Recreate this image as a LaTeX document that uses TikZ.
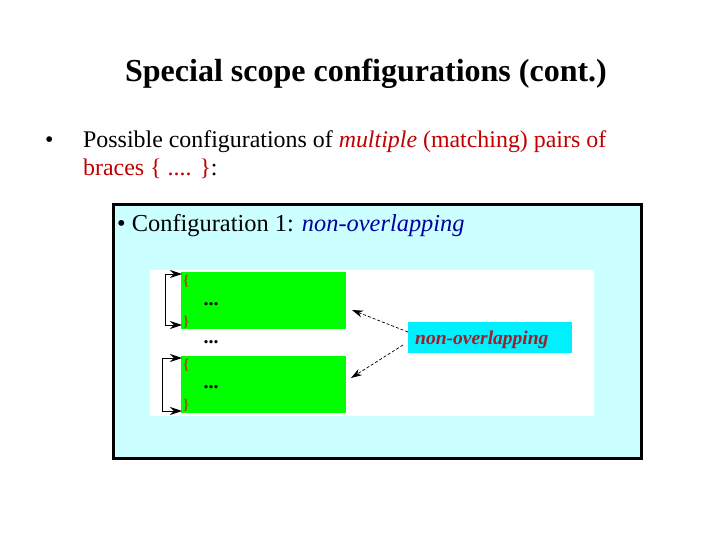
\documentclass[tikz,border=0pt]{standalone}
\usepackage{fontspec}
\setmainfont{Liberation Serif}
\usetikzlibrary{arrows.meta}
\definecolor{lightcyan}{RGB}{204,255,255}
\definecolor{brgreen}{RGB}{0,255,0}
\definecolor{labcyan}{RGB}{0,240,255}
\definecolor{redtext}{RGB}{192,0,0}
\definecolor{bluetext}{RGB}{0,0,160}
\definecolor{labred}{RGB}{160,30,40}
\definecolor{bracecol}{RGB}{160,80,10}
\tikzset{
  greenbox/.style={fill=brgreen, draw=none, anchor=north west, minimum width=165pt, minimum height=57pt, inner sep=0pt},
  bracech/.style={text=bracecol, font=\bfseries\fontsize{15}{15}\selectfont, inner sep=0pt},
  dots/.style={font=\bfseries\fontsize{20}{20}\selectfont, inner sep=0pt},
  bracket/.style={line width=1pt, {Stealth[length=12pt,width=8pt]}-{Stealth[length=12pt,width=8pt]}},
  dasharrow/.style={line width=0.7pt, dash pattern=on 3pt off 2pt, -{Stealth[length=11pt,width=7pt]}},
  line1/.style={font=\fontsize{23.9}{28}\selectfont, inner sep=0pt, anchor=base west}
}
\begin{document}
\begin{tikzpicture}[x=1pt,y=-1pt]
\useasboundingbox (0,0) rectangle (720,540);
\fill[white] (0,0) rectangle (720,540);
% title
\node[font=\bfseries\fontsize{32}{36}\selectfont, inner sep=0pt, anchor=base] (title) at (366,82) {Special scope configurations (cont.)};
% bullet
\node[line1] (b1) at (45,148) {\textbullet};
\node[line1] (t1) at (83,148) {Possible configurations of \textcolor{redtext}{\textit{multiple} (matching) pairs of}};
\node[line1] (t1b) at (83,176) {\textcolor{redtext}{braces \{ .... \}}:};
% box
\draw[line width=3pt, fill=lightcyan] (113.5,204.5) rectangle (641.5,458.5);
\node[font=\fontsize{24.4}{28}\selectfont, inner sep=0pt, anchor=base west] (t2) at (117,231) {\textbullet\ Configuration 1: \textcolor{bluetext}{\textit{non-overlapping}}};
% inner white panel
\fill[white] (150,270) rectangle (594,416);
\node[greenbox] (g1) at (181,272) {};
\node[greenbox] (g2) at (181,356) {};
\node[bracech] (o1) at (186,281) {\{};
\node[dots] (d1) at (211,304) {...};
\node[bracech] (c1) at (186,322) {\}};
\node[dots] (dm) at (211,342) {...};
\node[bracech] (o2) at (186,365) {\{};
\node[dots] (d2) at (211,387) {...};
\node[bracech] (c2) at (186,405) {\}};
% brackets
\coordinate (a1t) at (182,274);
\coordinate (a1b) at (182,325);
\coordinate (a2t) at (182,358);
\coordinate (a2b) at (182,411);
\draw[bracket] (a1t) -- (165,274) -- (165,325) -- (a1b);
\draw[bracket] (a2t) -- (162,358) -- (162,411) -- (a2b);
% label
\node[fill=labcyan, anchor=north west, minimum width=164pt, minimum height=31pt, inner sep=0pt] (lab) at (408,322) {};
\node[font=\bfseries\itshape\fontsize{19.5}{22}\selectfont, text=labred, inner sep=0pt, anchor=base west] (labt) at (415,344) {non-overlapping};
\coordinate (e1) at (352,310);
\coordinate (e2) at (351,378);
\draw[dasharrow] ([yshift=-10pt]lab.north west) -- (e1);
\draw[dasharrow] (403,345) -- (e2);
\end{tikzpicture}
\end{document}
